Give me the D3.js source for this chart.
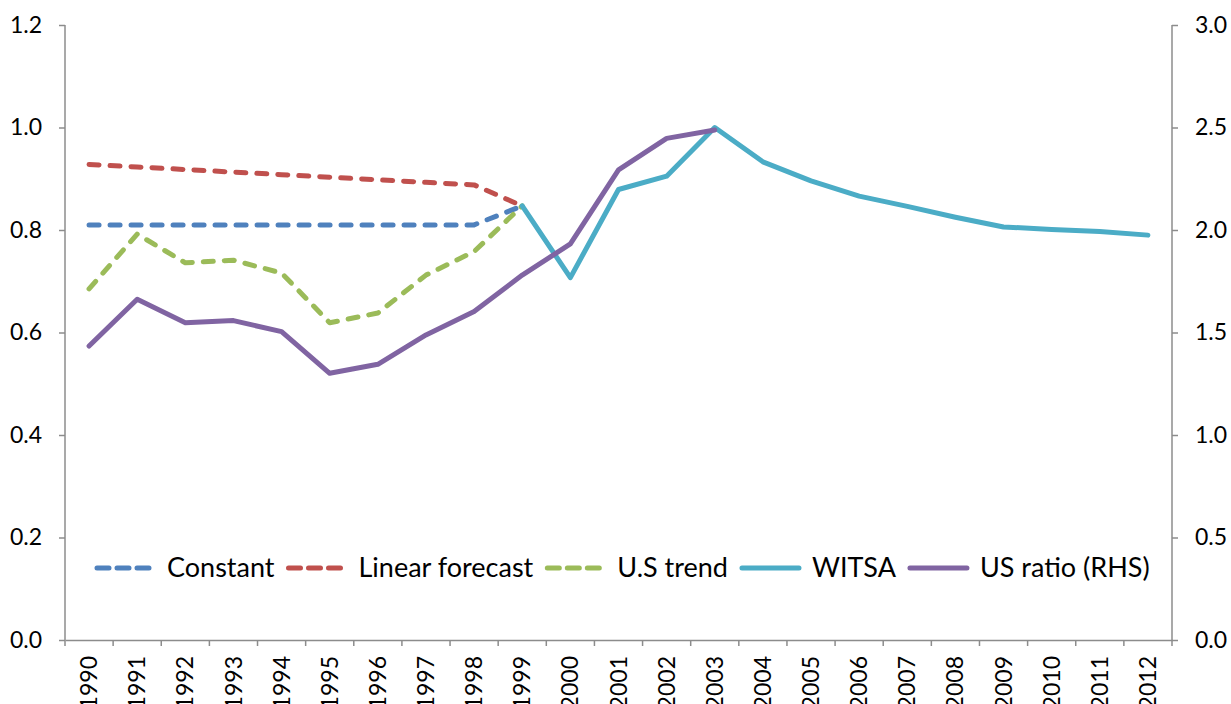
<!DOCTYPE html>
<html>
  <head>
    <meta charset="utf-8" />
    <script src="https://d3js.org/d3.v7.min.js"></script>
    <style>
        body {
          margin: 0;
          background: #fff;
        }
        text {
          font-family: Lato, "Open Sans", sans-serif;
          fill: #000;
        }
      </style>
  </head>
  <body>

    <svg id="viz"></svg>

      <script>
        var years = d3.range(1990, 2013).map(String);

        var constant = [0.81, 0.81, 0.81, 0.81, 0.81, 0.81, 0.81, 0.81, 0.81, 0.847];
        var linearForecast = [0.928, 0.923, 0.918, 0.913, 0.908, 0.903, 0.898, 0.893, 0.888, 0.847];
        var usTrend = [0.685, 0.792, 0.736, 0.741, 0.716, 0.619, 0.638, 0.712, 0.758, 0.847];
        // WITSA starts in 1999
        var witsa = [0.847, 0.707, 0.879, 0.905, 1.0, 0.933, 0.896, 0.866, 0.846, 0.825, 0.806, 0.801, 0.797, 0.790];
        // US ratio on right axis, 1990-2003
        var usRatio = [1.434, 1.662, 1.548, 1.558, 1.504, 1.301, 1.345, 1.488, 1.602, 1.78, 1.932, 2.293, 2.447, 2.488];

        var leftTicks = [0, 0.2, 0.4, 0.6, 0.8, 1.0, 1.2];
        var rightTicks = [0, 0.5, 1.0, 1.5, 2.0, 2.5, 3.0];

        var width = 1231;
        var height = 704;
        var m = {left: 65, right: 1172, top: 25, bottom: 640};

        var svg = d3.select("#viz")
            .attr("width", width)
            .attr("height", height);

        var x = d3.scaleBand()
            .domain(years)
            .range([m.left, m.right]);

        var y = d3.scaleLinear().domain([0, 1.2]).range([m.bottom, m.top]);
        var y2 = d3.scaleLinear().domain([0, 3]).range([m.bottom, m.top]);

        function cx(d) { return x(d) + x.bandwidth() / 2; }

        // axes
        var axisColor = "#8c8c8c";

        var gl = svg.append("g")
            .attr("transform", "translate(" + m.left + ",0)")
            .call(d3.axisLeft(y).tickValues(leftTicks).tickFormat(d3.format(".1f")).tickSize(6).tickPadding(17));

        var gr = svg.append("g")
            .attr("transform", "translate(" + m.right + ",0)")
            .call(d3.axisRight(y2).tickValues(rightTicks).tickFormat(d3.format(".1f")).tickSize(6).tickPadding(17));

        var gb = svg.append("g")
            .attr("transform", "translate(0," + m.bottom + ")")
            .call(d3.axisBottom(x).tickSize(0).tickPadding(0));

        [gl, gr, gb].forEach(function(g) {
            g.select(".domain").attr("stroke", axisColor).attr("stroke-width", 1.5);
            g.selectAll(".tick line").attr("stroke", axisColor).attr("stroke-width", 1.5);
            g.selectAll("text").style("font-size", "23px").attr("fill", "#000");
        });
        gl.select(".domain").attr("d", "M0," + m.top + "V" + m.bottom);
        gr.select(".domain").attr("d", "M0," + m.top + "V" + m.bottom);

        // ticks between categories
        gb.selectAll(".boundary")
            .data(years.concat(["end"]))
            .enter().append("line")
            .attr("class", "boundary")
            .attr("x1", function(d, i) { return m.left + i * x.step(); })
            .attr("x2", function(d, i) { return m.left + i * x.step(); })
            .attr("y1", 0)
            .attr("y2", 6)
            .attr("stroke", axisColor)
            .attr("stroke-width", 1.5);

        gb.selectAll(".tick text")
            .style("font-size", "23px")
            .attr("text-anchor", "end")
            .attr("dy", "0.35em")
            .attr("transform", "translate(0,16) rotate(-90)")
            .attr("y", 0)
            .attr("x", 0);

        // series
        var series = [
            {name: "Constant", values: constant, start: 0, axis: y, color: "#4F81BD", dash: "10,11"},
            {name: "Linear forecast", values: linearForecast, start: 0, axis: y, color: "#C0504D", dash: "10,11"},
            {name: "U.S trend", values: usTrend, start: 0, axis: y, color: "#9BBB59", dash: "10,11"},
            {name: "WITSA", values: witsa, start: 9, axis: y, color: "#4BACC6", dash: null},
            {name: "US ratio (RHS)", values: usRatio, start: 0, axis: y2, color: "#8064A2", dash: null}
        ];

        series.forEach(function(s) {
            var line = d3.line()
                .x(function(d, i) { return cx(years[i + s.start]); })
                .y(function(d) { return s.axis(d); });
            svg.append("path")
                .datum(s.values)
                .attr("d", line)
                .attr("fill", "none")
                .attr("stroke", s.color)
                .attr("stroke-width", 5)
                .attr("stroke-linejoin", "round")
                .attr("stroke-linecap", "round")
                .attr("stroke-dasharray", s.dash);
        });

        // legend
        var legend = svg.append("g").attr("transform", "translate(0,568)");
        var lx = 97;
        series.forEach(function(s) {
            legend.append("line")
                .attr("x1", lx).attr("x2", lx + 57)
                .attr("y1", 0).attr("y2", 0)
                .attr("stroke", s.color)
                .attr("stroke-width", 5)
                .attr("stroke-linecap", "round")
                .attr("stroke-dasharray", s.dash ? "12,8" : null);
            var t = legend.append("text")
                .attr("x", lx + 70)
                .attr("y", 0)
                .attr("dy", "0.35em")
                .style("font-size", "27px")
                .text(s.name);
            lx = lx + 70 + t.node().getComputedTextLength() + 14;
        });
      </script>

  </body>
</html>
